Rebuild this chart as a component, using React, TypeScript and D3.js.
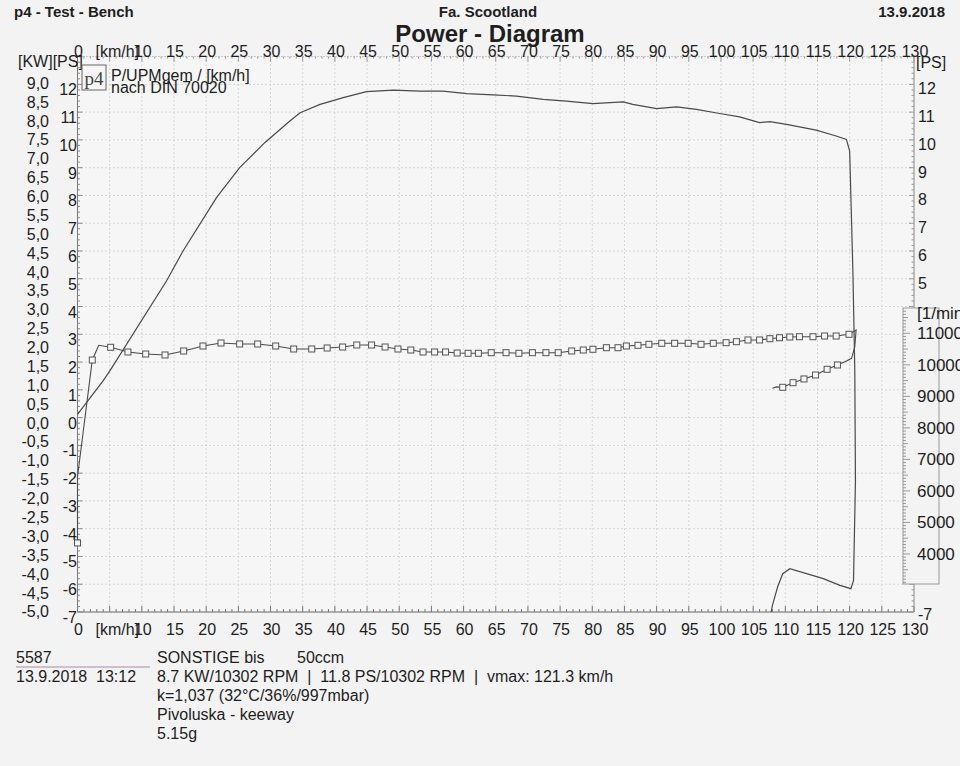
import React from 'react';
import * as d3 from 'd3';

const W = 960;
const H = 766;
const FONT = "'Liberation Sans', Arial, sans-serif";

// ---- axis tick values / labels ----
const kmhTicks = [0, 5, 10, 15, 20, 25, 30, 35, 40, 45, 50, 55, 60, 65, 70, 75, 80, 85, 90, 95, 100, 105, 110, 115, 120, 125, 130];
const kmhLabels = ['0', '[km/h]', '10', '15', '20', '25', '30', '35', '40', '45', '50', '55', '60', '65', '70', '75', '80', '85', '90', '95', '100', '105', '110', '115', '120', '125', '130'];
const psTicksLeft = [12, 11, 10, 9, 8, 7, 6, 5, 4, 3, 2, 1, 0, -1, -2, -3, -4, -5, -6, -7];
const psTicksRight = [12, 11, 10, 9, 8, 7, 6, 5];
const kwTicks = [9, 8.5, 8, 7.5, 7, 6.5, 6, 5.5, 5, 4.5, 4, 3.5, 3, 2.5, 2, 1.5, 1, 0.5, 0, -0.5, -1, -1.5, -2, -2.5, -3, -3.5, -4, -4.5, -5];
const kwLabels = ['9,0', '8,5', '8,0', '7,5', '7,0', '6,5', '6,0', '5,5', '5,0', '4,5', '4,0', '3,5', '3,0', '2,5', '2,0', '1,5', '1,0', '0,5', '0,0', '-0,5', '-1,0', '-1,5', '-2,0', '-2,5', '-3,0', '-3,5', '-4,0', '-4,5', '-5,0'];
const rpmTicks = [11000, 10000, 9000, 8000, 7000, 6000, 5000, 4000];
const rpmLabels = ['11000', '10000', '9000', '8000', '7000', '6000', '5000', '4000'];

// ---- power curve (PS over km/h), acceleration then run-down ----
const powerSpeed = [0, 4.0, 5.05, 13.85, 16.4, 21.6, 25.2, 29.1, 33.0, 34.6, 37.7, 41.3, 44.9, 49.1, 53.2, 56.8, 60.5, 64.6, 68.2, 72.4, 76.0, 80.1, 84.8, 86.3, 90.0, 93.1, 96.2, 99.8, 102.9, 106.0, 107.6, 110.2, 114.8, 117.9, 119.5, 120.0, 120.5, 120.8, 120.9, 120.6, 120.2, 118.5, 115.9, 113.3, 110.7, 109.6, 108.8, 108.0, 107.8];
const powerPS = [0.12, 1.33, 1.69, 4.93, 6.0, 7.92, 9.0, 9.9, 10.68, 10.98, 11.28, 11.52, 11.74, 11.79, 11.76, 11.76, 11.67, 11.62, 11.58, 11.46, 11.40, 11.31, 11.37, 11.28, 11.13, 11.19, 11.10, 10.95, 10.83, 10.62, 10.66, 10.56, 10.35, 10.14, 10.02, 9.6, 5.3, 1.7, -2.3, -5.86, -6.16, -6.04, -5.8, -5.62, -5.44, -5.62, -6.1, -6.76, -7.0];

// ---- engine speed curve (1/min over km/h) ----
const rpmSpeed = [0, 0, 2.3, 3.3, 5.15, 7.84, 10.6, 13.6, 16.5, 19.5, 22.3, 25.2, 28.0, 30.8, 33.6, 36.4, 38.8, 41.2, 43.4, 45.7, 47.8, 49.8, 51.8, 53.7, 55.5, 57.2, 59.0, 60.7, 62.3, 64.3, 66.6, 68.6, 70.7, 72.8, 74.7, 76.8, 78.6, 80.1, 82.2, 84.0, 85.3, 87.1, 88.8, 90.8, 92.8, 94.9, 96.9, 98.8, 100.8, 102.4, 104.2, 106.0, 107.6, 109.1, 110.7, 112.2, 114.3, 116.1, 117.9, 119.9, 121.0, 120.8, 120.3, 119.5, 118.1, 116.5, 114.7, 112.9, 111.2, 109.6, 108.6, 108.0];
const rpmValue = [4350, 6450, 10153, 10619, 10556, 10407, 10343, 10312, 10439, 10597, 10692, 10661, 10661, 10597, 10502, 10502, 10534, 10565, 10629, 10629, 10565, 10502, 10470, 10407, 10407, 10407, 10375, 10366, 10366, 10385, 10385, 10366, 10385, 10385, 10385, 10439, 10470, 10493, 10543, 10543, 10597, 10619, 10651, 10683, 10683, 10683, 10651, 10683, 10702, 10734, 10788, 10788, 10829, 10860, 10883, 10892, 10892, 10914, 10914, 10968, 11105, 10575, 10207, 10121, 9995, 9858, 9677, 9551, 9433, 9287, 9300, 9256];
const rpmMarker = [1, 0, 1, 0, 1, 1, 1, 1, 1, 1, 1, 1, 1, 1, 1, 1, 1, 1, 1, 1, 1, 1, 1, 1, 1, 1, 1, 1, 1, 1, 1, 1, 1, 1, 1, 1, 1, 1, 1, 1, 1, 1, 1, 1, 1, 1, 1, 1, 1, 1, 1, 1, 1, 1, 1, 1, 1, 1, 1, 1, 0, 0, 0, 0, 1, 1, 1, 1, 1, 1, 0, 0];

const PS_PER_KW = 1 / 0.73549875;

export default function App() {
  const x = d3.scaleLinear().domain([0, 130]).range([77.5, 914]);
  const y = d3.scaleLinear().domain([-7, 13]).range([612, 56.6]);
  const yr = d3.scaleLinear().domain([3000, 11000]).range([585.5, 333.3]);

  const powerPts: [number, number][] = powerSpeed.map((s, i) => [x(s), y(powerPS[i])]);
  const rpmPts: [number, number][] = rpmSpeed.map((s, i) => [x(s), yr(rpmValue[i])]);
  const line = d3.line<[number, number]>();

  const textCol = '#1e1e1e';
  const lineCol = '#4a4a4a';
  const gridCol = '#b8b8b8';

  const minorX = d3.range(0, 131, 1);
  const minorY = d3.range(-7, 13.001, 0.2);
  const minorR = d3.range(3000, 11801, 100);

  return (
    <svg width={W} height={H} style={{ position: 'absolute', left: 0, top: 0, background: '#f3f3f3' }} fontFamily={FONT}>
      <rect x={0} y={0} width={W} height={H} fill="#f3f3f3" />
      <rect x={x(0)} y={y(13)} width={x(130) - x(0)} height={y(-7) - y(13)} fill="#f6f6f6" />

      {/* header */}
      <text x={14} y={17} fontSize={15} fontWeight="bold" fill={textCol}>p4 - Test - Bench</text>
      <text x={488} y={17} fontSize={15} fontWeight="bold" fill={textCol} textAnchor="middle">Fa. Scootland</text>
      <text x={945} y={17} fontSize={15} fontWeight="bold" fill={textCol} textAnchor="end">13.9.2018</text>
      <text x={490} y={42} fontSize={24} fontWeight="bold" fill={textCol} textAnchor="middle">Power - Diagram</text>

      {/* grid */}
      {kmhTicks.filter((t) => t > 0 && t < 130).map((t) => (
        <line key={'gx' + t} x1={x(t)} x2={x(t)} y1={y(13)} y2={y(-7)} stroke={gridCol} strokeWidth={1} strokeDasharray="1,3" />
      ))}
      {psTicksLeft.filter((t) => t > -7).map((t) => (
        <line key={'gy' + t} x1={x(0)} x2={x(130)} y1={y(t)} y2={y(t)} stroke={gridCol} strokeWidth={1} strokeDasharray="1,3" />
      ))}

      {/* top axis */}
      <line x1={x(0)} x2={x(130) + 4} y1={y(13)} y2={y(13)} stroke="#999" strokeWidth={1} strokeDasharray="1,2" />
      {minorX.map((t) => (
        <line key={'tt' + t} x1={x(t)} x2={x(t)} y1={y(13)} y2={y(13) + (t % 5 === 0 ? 5 : 2)} stroke="#999" strokeWidth={1} />
      ))}
      {/* bottom axis */}
      <line x1={x(0)} x2={x(130)} y1={y(-7)} y2={y(-7)} stroke="#666" strokeWidth={1} />
      {minorX.map((t) => (
        <line key={'bt' + t} x1={x(t)} x2={x(t)} y1={y(-7)} y2={y(-7) - (t % 5 === 0 ? 6 : 3)} stroke="#777" strokeWidth={1} />
      ))}
      {/* left axis */}
      <line x1={x(0)} x2={x(0)} y1={y(13)} y2={y(-7)} stroke="#777" strokeWidth={1} />
      {minorY.map((t, i) => (
        <line key={'lt' + i} x1={x(0)} x2={x(0) + (i % 5 === 0 ? 5 : 2.5)} y1={y(t)} y2={y(t)} stroke="#888" strokeWidth={1} />
      ))}
      {/* right axis */}
      <line x1={x(130)} x2={x(130)} y1={y(13)} y2={y(-7)} stroke="#888" strokeWidth={1} />
      {minorY.map((t, i) => (
        <line key={'rt' + i} x1={x(130)} x2={x(130) - (i % 5 === 0 ? 5 : 2.5)} y1={y(t)} y2={y(t)} stroke="#999" strokeWidth={1} />
      ))}

      {/* x labels */}
      {kmhTicks.map((t, i) => (
        <text key={'xl' + t} x={i === 1 ? x(0) + 18 : x(t) + 1} y={y(13)} fontSize={16} fill={textCol}
          textAnchor={i === 1 ? 'start' : 'middle'}>{kmhLabels[i]}</text>
      ))}
      {kmhTicks.map((t, i) => (
        <text key={'xb' + t} x={i === 1 ? x(0) + 18 : x(t) + 1} y={y(-7) + 23} fontSize={16} fill={textCol}
          textAnchor={i === 1 ? 'start' : 'middle'}>{kmhLabels[i]}</text>
      ))}

      {/* left labels */}
      <text x={18} y={67} fontSize={16} fill={textCol}>[KW][PS]</text>
      {kwTicks.map((t, i) => (
        <text key={'kw' + t} x={49} y={y(t * PS_PER_KW) + 11} fontSize={16} fill={textCol} textAnchor="end">{kwLabels[i]}</text>
      ))}
      {psTicksLeft.map((t) => (
        <text key={'ps' + t} x={77} y={y(t) + 11} fontSize={16} fill={textCol} textAnchor="end">{t}</text>
      ))}

      {/* right labels */}
      <text x={916} y={68} fontSize={16} fill={textCol}>[PS]</text>
      {psTicksRight.map((t) => (
        <text key={'psr' + t} x={918} y={y(t) + 10} fontSize={16} fill={textCol}>{t}</text>
      ))}
      <text x={918} y={y(-7) + 8} fontSize={16} fill={textCol}>-7</text>

      {/* rpm axis box */}
      <rect x={903} y={308} width={36} height={276} fill="#f3f3f3" stroke="#999" strokeWidth={1} />
      {minorR.filter((r) => yr(r) > 309 && yr(r) < 583).map((r) => (
        <line key={'rr' + r} x1={903} x2={903 + (r % 1000 === 0 ? 7 : r % 500 === 0 ? 5 : 3)} y1={yr(r)} y2={yr(r)} stroke="#999" strokeWidth={1} />
      ))}
      <text x={917} y={319} fontSize={17} fill={textCol}>[1/min]</text>
      {rpmTicks.map((r, i) => (
        <text key={'rl' + r} x={917} y={yr(r) + 6} fontSize={17} fill={textCol}>{rpmLabels[i]}</text>
      ))}

      {/* legend */}
      <rect x={82} y={65} width={24} height={25} fill="#f6f6f6" stroke="#666" strokeWidth={1} />
      <text x={94} y={85} fontSize={19} fontFamily="'Liberation Serif', 'DejaVu Serif', serif" fill="#444" textAnchor="middle">p4</text>
      <text x={111} y={81} fontSize={16} fill={textCol}>P/UPMgem / [km/h]</text>
      <text x={111} y={93} fontSize={16} fill={textCol}>nach DIN 70020</text>

      {/* curves */}
      <path d={line(powerPts) || ''} fill="none" stroke={lineCol} strokeWidth={1.2} />
      <path d={line(rpmPts) || ''} fill="none" stroke={lineCol} strokeWidth={1.1} />
      {rpmPts.map((p, i) => rpmMarker[i] ? (
        <rect key={'m' + i} x={p[0] - 3} y={p[1] - 3} width={6} height={6} fill="#f6f6f6" stroke="#555" strokeWidth={1} />
      ) : null)}

      {/* footer */}
      <text x={16} y={663} fontSize={16} fill={textCol}>5587</text>
      <line x1={16} x2={150} y1={667} y2={667} stroke="#a58aa8" strokeWidth={1} />
      <text x={16} y={682} fontSize={16} fill={textCol} style={{ whiteSpace: 'pre' }}>13.9.2018  13:12</text>
      <text x={157} y={663} fontSize={16} fill={textCol}>SONSTIGE bis</text>
      <text x={297} y={663} fontSize={16} fill={textCol}>50ccm</text>
      <text x={157} y={682} fontSize={16} fill={textCol} style={{ whiteSpace: 'pre' }}>8.7 KW/10302 RPM  |  11.8 PS/10302 RPM  |  vmax: 121.3 km/h</text>
      <text x={157} y={701} fontSize={16} fill={textCol}>k=1,037 (32°C/36%/997mbar)</text>
      <text x={157} y={720} fontSize={16} fill={textCol}>Pivoluska - keeway</text>
      <text x={157} y={739} fontSize={16} fill={textCol}>5.15g</text>
    </svg>
  );
}
